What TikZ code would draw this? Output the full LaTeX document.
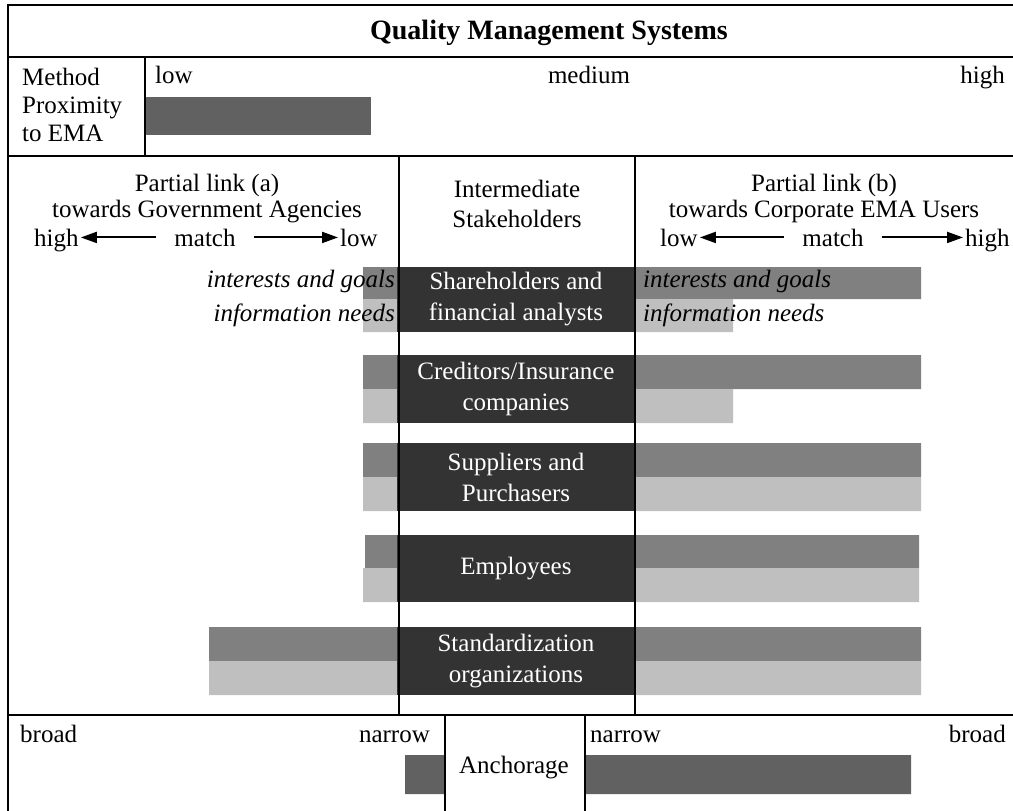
\documentclass[tikz,border=0pt]{standalone}
\usepackage{fontspec}
\setmainfont{Liberation Serif}
\usetikzlibrary{arrows.meta}

\begin{document}
\begin{tikzpicture}[x=1pt, y=-1pt, >={Triangle[length=16pt,width=11pt]},
  txt/.style={inner sep=0pt, font=\fontsize{25}{28}\selectfont},
  note/.style={inner sep=0pt, font=\fontsize{25}{28}\selectfont\itshape},
  stake/.style={rectangle, fill=black!80, text=white, inner sep=0pt, minimum width=238pt, minimum height=67pt, align=center, font=\fontsize{25}{31}\selectfont},
  goalbar/.style={fill=black!50},
  needbar/.style={fill=black!25},
  scalebar/.style={fill=black!62},
  rule/.style={line width=2.4pt},
  link/.style={->, line width=2pt, shorten <=18pt, shorten >=2pt}]
  \useasboundingbox (0,0) rectangle (1013,811);
  % bars: interests and goals / information needs
  \fill[goalbar] (363,267) rectangle (397,299) (635,267) rectangle (921,299);
  \fill[needbar] (363,299) rectangle (397,332) (635,299) rectangle (733,332);
  \fill[goalbar] (363,355) rectangle (397,389) (635,355) rectangle (921,389);
  \fill[needbar] (363,389) rectangle (397,423) (635,389) rectangle (733,423);
  \fill[goalbar] (363,443) rectangle (397,477) (635,443) rectangle (921,477);
  \fill[needbar] (363,477) rectangle (397,511) (635,477) rectangle (921,511);
  \fill[goalbar] (365,535) rectangle (397,568) (635,535) rectangle (919,568);
  \fill[needbar] (363,568) rectangle (397,602) (635,568) rectangle (919,602);
  \fill[goalbar] (209,627) rectangle (397,661) (635,627) rectangle (921,661);
  \fill[needbar] (209,661) rectangle (397,695) (635,661) rectangle (921,695);
  \fill[scalebar] (145,97) rectangle (371,135);
  \fill[scalebar] (405,755) rectangle (445,794) (585,755) rectangle (911,794);
  % stakeholder groups
  \node[stake, minimum height=65pt] (share) at (516,299.5) {Shareholders and\\financial analysts};
  \node[stake, minimum height=68pt] (cred) at (516,389) {Creditors/Insurance\\companies};
  \node[stake, minimum height=68pt] (supp) at (516,477) {Suppliers and\\Purchasers};
  \node[stake] (empl) at (516,568.5) {Employees};
  \node[stake, minimum height=68pt] (stand) at (516,661) {Standardization\\organizations};
  % frame
  \draw[rule] (8,811) -- (8,5) -- (1013,5);
  \draw[rule] (8,57) -- (1013,57);
  \draw[rule] (8,156) -- (1013,156);
  \draw[rule] (145,57) -- (145,156);
  \draw[rule] (399,156) -- (399,715);
  \draw[rule] (635,156) -- (635,715);
  \draw[rule] (8,715) -- (1013,715);
  \draw[rule] (445,715) -- (445,811);
  \draw[rule] (585,715) -- (585,811);
  % headings
  \node[inner sep=0pt, font=\fontsize{28}{30}\selectfont\bfseries, anchor=base] (title) at (549,39) {Quality Management Systems};
  \node[txt, align=left, anchor=north west] (method) at (22,68) {Method\\Proximity\\to EMA};
  \node[txt, anchor=base west] (lowM) at (155,83) {low};
  \node[txt, anchor=base] (medM) at (589,83) {medium};
  \node[txt, anchor=base east] (highM) at (1005,83) {high};
  \node[txt, anchor=base] (linkA) at (207,191) {Partial link (a)};
  \node[txt, anchor=base] (govA) at (207,217) {towards Government Agencies};
  \node[txt, anchor=base west] (highA) at (34,246) {high};
  \node[txt, anchor=base] (matchA) at (205,246) {match};
  \node[txt, anchor=base west] (lowA) at (340,246) {low};
  \node[txt, align=center, font=\fontsize{25}{30}\selectfont] (inter) at (517,204) {Intermediate\\Stakeholders};
  \node[txt, anchor=base] (linkB) at (824,191) {Partial link (b)};
  \node[txt, anchor=base] (corpB) at (824,217) {towards Corporate EMA Users};
  \node[txt, anchor=base west] (lowB) at (660,246) {low};
  \node[txt, anchor=base] (matchB) at (833,246) {match};
  \node[txt, anchor=base west] (highB) at (965,246) {high};
  \draw[link] (matchA.west) -- (matchA.west -| highA.east);
  \draw[link] (matchA.east) -- (matchA.east -| lowA.west);
  \draw[link] (matchB.west) -- (matchB.west -| lowB.east);
  \draw[link] (matchB.east) -- (matchB.east -| highB.west);
  % legend of the bars
  \node[note, anchor=base east] (goalL) at (395,287) {interests and goals};
  \node[note, anchor=base east] (needL) at (395,321) {information needs};
  \node[note, anchor=base west] (goalR) at (643,287) {interests and goals};
  \node[note, anchor=base west] (needR) at (643,321) {information needs};
  % anchorage
  \node[txt, anchor=base west] (broadL) at (20,742) {broad};
  \node[txt, anchor=base east] (narrowL) at (430,742) {narrow};
  \node[txt, anchor=base west] (narrowR) at (590,742) {narrow};
  \node[txt, anchor=base east] (broadR) at (1006,742) {broad};
  \node[txt, anchor=base] (anchor) at (514,773) {Anchorage};
\end{tikzpicture}
\end{document}
